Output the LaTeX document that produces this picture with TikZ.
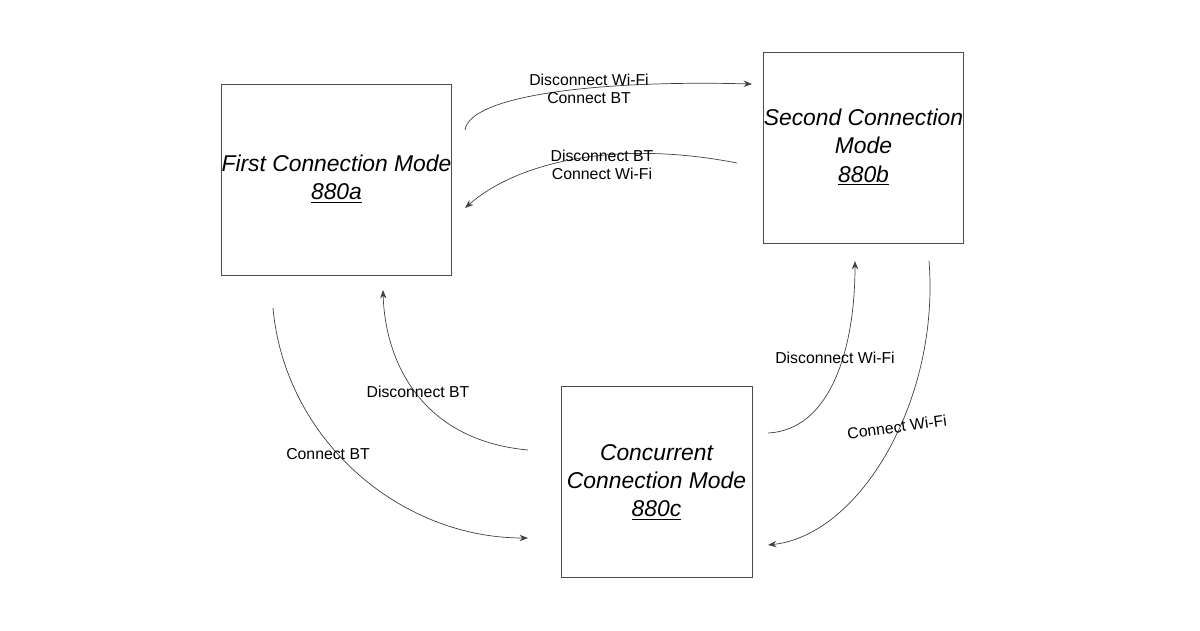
\documentclass[tikz,border=0pt]{standalone}
\usepackage{fontspec}
\setmainfont{Liberation Sans}
\usetikzlibrary{arrows.meta}
\begin{document}
\begin{tikzpicture}[x=0.02cm, y=-0.02cm,
  >=Stealth, % arrow head style
  mode/.style={draw=black!70, minimum size=3.82cm, inner sep=0pt, align=center,
    font=\itshape\fontsize{13}{16}\selectfont},
  lbl/.style={font=\fontsize{9}{10}\selectfont, align=center},
  flow/.style={->, black!75, thin}
  ]
\useasboundingbox (0,0) rectangle (1200,630);

\node[mode] (A) at (336.5,179.5) {First Connection Mode\\\underline{880a}};
\node[mode] (B) at (863.5,147.5) {Second Connection\\Mode\\\underline{880b}};
\node[mode] (C) at (656.5,482) {Concurrent\\Connection Mode\\\underline{880c}};

\coordinate (a1) at (465,130);
\coordinate (b1) at (752,84);
\coordinate (b2) at (737,163);
\coordinate (a2) at (465,208);
\coordinate (c1) at (528,450);
\coordinate (a3) at (383,290);
\coordinate (a4) at (273,308);
\coordinate (c2) at (528,538);
\coordinate (c3) at (768,433);
\coordinate (b3) at (855,261);
\coordinate (b4) at (929,261);
\coordinate (c4) at (768,545);

\draw[flow] (a1) .. controls (470,95) and (600,80) .. (b1);
\draw[flow] (b2) .. controls (620,140) and (520,160) .. (a2);
\draw[flow] (c1) .. controls (420,440) and (385,360) .. (a3);
\draw[flow] (a4) .. controls (285,440) and (400,538) .. (c2);
\draw[flow] (c3) .. controls (830,430) and (855,350) .. (b3);
\draw[flow] (b4) .. controls (940,400) and (860,535) .. (c4);

\node[lbl] (l1) at (589,89) {Disconnect Wi-Fi\\Connect BT};
\node[lbl] (l2) at (602,165) {Disconnect BT\\Connect Wi-Fi};
\node[lbl] (l3) at (418,392) {Disconnect BT};
\node[lbl] (l4) at (328,454) {Connect BT};
\node[lbl] (l5) at (835,358) {Disconnect Wi-Fi};
\node[lbl, rotate=8] (l6) at (897,427) {Connect Wi-Fi};
\end{tikzpicture}
\end{document}
